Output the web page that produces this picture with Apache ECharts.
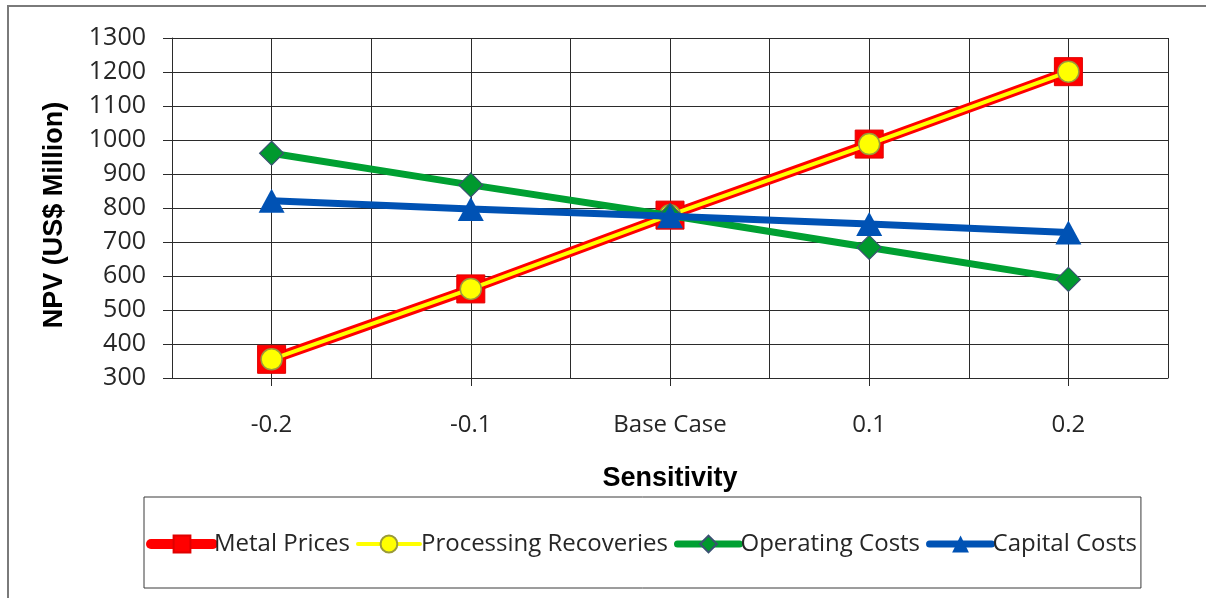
<!DOCTYPE html>
<html><head><meta charset="utf-8">
<script src="https://cdn.jsdelivr.net/npm/echarts@6/dist/echarts.min.js"></script>
<style>html,body{margin:0;padding:0;background:#fff}#c{width:1206px;height:598px}</style>
</head><body><div id="c"></div>
<script>
const categories = ['-0.2', '-0.1', 'Base Case', '0.1', '0.2'];
const metalPrices = [355, 562, 779, 988, 1201];
const processingRecoveries = [355, 562, 779, 988, 1201];
const operatingCosts = [961, 868, 778, 684, 590];
const capitalCosts = [821, 797, 776, 753, 728];
const seriesNames = ['Metal Prices', 'Processing Recoveries', 'Operating Costs', 'Capital Costs'];
const yMin = 300, yMax = 1300, yStep = 100;
const xTitle = 'Sensitivity';
const yTitle = 'NPV (US$ Million)';

// half-category slots used only to draw the extra vertical gridlines
const halfSlots = [];
categories.forEach(() => { halfSlots.push(''); halfSlots.push(''); });

const FONT = 'Open Sans';
const gridColor = '#2b2b2b';
const chart = echarts.init(document.getElementById('c'), null, {renderer: 'canvas'});
const colors = {
  metal: '#ff0000', proc: '#ffff00', oper: '#00a032', cap: '#0052b4'
};
chart.setOption({
  animation: false,
  backgroundColor: '#ffffff',
  graphic: [{
    type: 'rect', shape: {x: 8, y: 6, width: 1400, height: 800},
    style: {fill: 'none', stroke: '#7a7a7a', lineWidth: 2}, z: -10, silent: true
  }, {
    type: 'text', x: 55, y: 215, rotation: Math.PI / 2,
    style: {text: yTitle, fontFamily: 'Liberation Sans', fontWeight: 'bold', fontSize: 27,
      fill: '#000', align: 'center', verticalAlign: 'middle'},
    silent: true
  }],
  grid: {left: 172, right: 38, top: 38, bottom: 220, containLabel: false},
  legend: {
    left: 144, top: 497,
    padding: [35, 4, 32, 2],
    borderColor: '#3a3a3a', borderWidth: 1,
    itemWidth: 62, itemHeight: 21, itemGap: 6,
    textStyle: {fontFamily: FONT, fontSize: 24, color: '#262626', padding: [0, 0, 0, -4]},
    data: [
      {name: seriesNames[0], lineStyle: {width: 10, color: colors.metal, cap: 'round'}},
      {name: seriesNames[1], lineStyle: {width: 4, color: colors.proc, cap: 'round'}},
      {name: seriesNames[2], lineStyle: {width: 7, color: colors.oper, cap: 'round'}},
      {name: seriesNames[3], lineStyle: {width: 7, color: colors.cap, cap: 'round'}}
    ]
  },
  xAxis: [{
    type: 'category', data: categories, boundaryGap: true,
    name: xTitle, nameLocation: 'middle', nameGap: 87,
    nameTextStyle: {fontFamily: 'Liberation Sans', fontWeight: 'bold', fontSize: 27, color: '#000'},
    axisLine: {show: true, lineStyle: {color: gridColor, width: 1}},
    axisTick: {show: true, alignWithLabel: true, length: 8, lineStyle: {color: gridColor}},
    axisLabel: {fontFamily: FONT, fontSize: 24, color: '#262626', margin: 35},
    splitLine: {show: false}
  }, {
    type: 'category', data: halfSlots, boundaryGap: true, position: 'bottom',
    axisLine: {show: false}, axisTick: {show: false}, axisLabel: {show: false},
    splitLine: {show: true, lineStyle: {color: gridColor, width: 1}}
  }],
  yAxis: {
    type: 'value', min: yMin, max: yMax, interval: yStep,
    axisLine: {show: true, lineStyle: {color: gridColor, width: 1}},
    axisTick: {show: true, length: 9, lineStyle: {color: gridColor}},
    axisLabel: {fontFamily: FONT, fontSize: 25, color: '#262626', margin: 26,
      formatter: v => String(v)},
    splitLine: {show: true, lineStyle: {color: gridColor, width: 1}}
  },
  series: [{
    name: seriesNames[0], type: 'line', data: metalPrices, xAxisIndex: 0,
    symbol: 'rect', symbolSize: 28,
    lineStyle: {color: colors.metal, width: 10},
    itemStyle: {color: colors.metal, borderColor: '#e00000', borderWidth: 1},
    z: 2
  }, {
    name: seriesNames[1], type: 'line', data: processingRecoveries, xAxisIndex: 0,
    symbol: 'circle', symbolSize: 21,
    lineStyle: {color: colors.proc, width: 4},
    itemStyle: {color: colors.proc, borderColor: '#9a9a3a', borderWidth: 1.5},
    z: 3
  }, {
    name: seriesNames[2], type: 'line', data: operatingCosts, xAxisIndex: 0,
    symbol: 'diamond', symbolSize: [24, 24],
    lineStyle: {color: colors.oper, width: 7},
    itemStyle: {color: '#00992e', borderColor: '#3a5272', borderWidth: 1.2},
    z: 4
  }, {
    name: seriesNames[3], type: 'line', data: capitalCosts, xAxisIndex: 0,
    symbol: 'triangle', symbolSize: [26, 24],
    lineStyle: {color: colors.cap, width: 7},
    itemStyle: {color: colors.cap, borderColor: colors.cap, borderWidth: 0},
    z: 5
  }]
});
</script></body></html>
